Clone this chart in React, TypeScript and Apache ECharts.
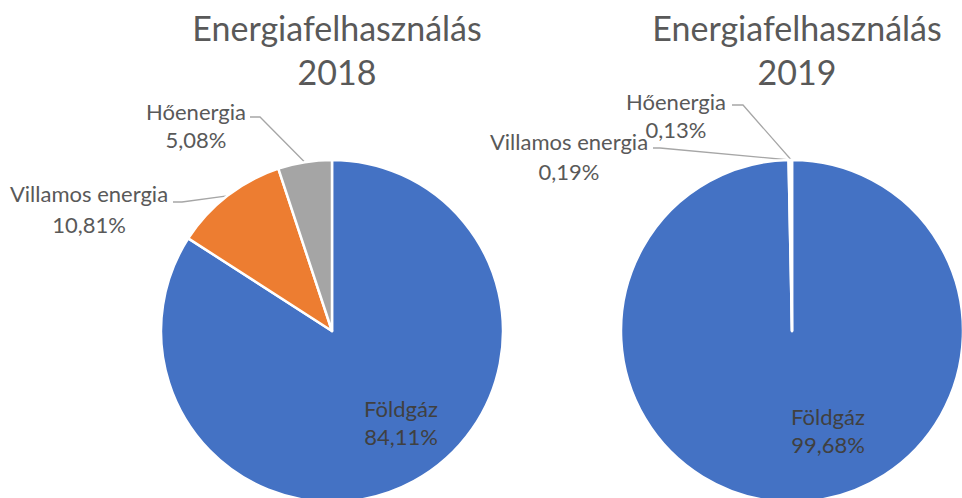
import React, { useEffect, useRef } from "react";
import * as echarts from "echarts";

// ---- data ----
const titleText = "Energiafelhasználás";
const years = ["2018", "2019"];
const categories = ["Földgáz", "Villamos energia", "Hőenergia"];
const values2018 = [84.11, 10.81, 5.08];
const values2019 = [99.68, 0.19, 0.13];
const colors = ["#4472C4", "#ED7D31", "#A5A5A5"];

// ---- layout (label placement, not data) ----
type LabelPos = { x: number; y: number; lh: number; bend?: [number, number]; end?: [number, number] };
const labelPos2018: LabelPos[] = [
  { x: 401, y: 422, lh: 28 },
  { x: 89, y: 209, lh: 31, bend: [182, 202], end: [173, 202] },
  { x: 196, y: 125.5, lh: 28.5, bend: [260, 117], end: [250, 117] },
];
const labelPos2019: LabelPos[] = [
  { x: 828, y: 430.5, lh: 28.5 },
  { x: 569, y: 156, lh: 30, bend: [660, 148], end: [653, 148] },
  { x: 676, y: 115.5, lh: 28.5, bend: [743, 105], end: [732, 105] },
];

const FONT = "Lato";
const fmtPct = (v: number) => v.toFixed(2).replace(".", ",") + "%";

function makeSeries(values: number[], center: [number, number], pos: LabelPos[]) {
  return {
    type: "pie",
    center,
    radius: 171,
    startAngle: 90,
    clockwise: true,
    avoidLabelOverlap: false,
    silent: true,
    itemStyle: { borderColor: "#ffffff", borderWidth: 2.5 },
    label: {
      show: true,
      position: "outside",
      fontFamily: FONT,
      fontSize: 22,
      lineHeight: 29,
      color: "#595959",
      align: "center",
      formatter: (p: any) => `${p.name}\n${fmtPct(p.value)}`,
    },
    labelLine: {
      show: true,
      length: 10,
      length2: 10,
      lineStyle: { color: "#A6A6A6", width: 1.3 },
    },
    labelLayout: (params: any) => {
      const lp = pos[params.dataIndex];
      const out: any = { x: lp.x, y: lp.y, align: "center", verticalAlign: "middle" };
      if (lp.bend && lp.end && params.labelLinePoints && params.labelLinePoints[0]) {
        out.labelLinePoints = [params.labelLinePoints[0], lp.bend, lp.end];
      }
      return out;
    },
    data: categories.map((name, i) => ({
      name,
      value: values[i],
      itemStyle: { color: colors[i] },
      label:
        i === 0
          ? { position: "inside", color: "#404040", lineHeight: pos[i].lh }
          : { lineHeight: pos[i].lh },
      ...(i === 0 ? { labelLine: { show: false } } : {}),
    })),
  };
}

export default function App() {
  const ref = useRef<HTMLDivElement>(null);
  useEffect(() => {
    if (!ref.current) return;
    const chart = echarts.init(ref.current, undefined, { renderer: "svg" });
    const titleStyle = {
      fontFamily: FONT,
      fontSize: 34,
      fontWeight: "normal" as const,
      color: "#595959",
      lineHeight: 44,
    };
    chart.setOption({
      animation: false,
      backgroundColor: "#ffffff",
      title: [
        { text: `${titleText}\n${years[0]}`, left: 332, top: 0, textAlign: "center", textStyle: titleStyle },
        { text: `${titleText}\n${years[1]}`, left: 792, top: 0, textAlign: "center", textStyle: titleStyle },
      ],
      series: [
        makeSeries(values2018, [332, 331], labelPos2018),
        makeSeries(values2019, [792, 331], labelPos2019),
      ],
    });
    return () => chart.dispose();
  }, []);
  return (
    <div
      ref={ref}
      style={{ position: "fixed", left: 0, top: 0, width: 962, height: 498 }}
    />
  );
}
